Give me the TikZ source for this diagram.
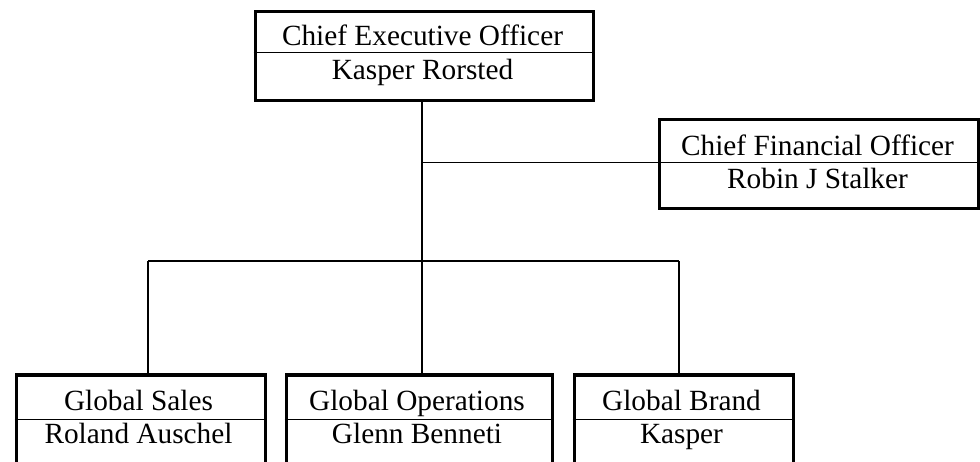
\documentclass[tikz,border=0pt]{standalone}
\usepackage{fontspec}
\setmainfont{Liberation Serif}
\begin{document}
\begin{tikzpicture}[x=1pt,y=-1pt,
  box/.style={draw=black, line width=3.5pt, rectangle, inner sep=0pt, anchor=north west, fill=white},
  conn/.style={draw=black, line width=1.7pt},
  div/.style={draw=black, line width=1pt},
  txt/.style={anchor=base, inner sep=0pt, font=\fontsize{29.3}{35}\selectfont}]
\useasboundingbox (0,0) rectangle (980,461);
\clip (0,0) rectangle (980,461);
% junction coordinates
\coordinate (jcfo) at (422,162.5);
\coordinate (bar) at (422,261);
\coordinate (barL) at (148,261);
\coordinate (barR) at (679,261);
% boxes
\node[box, minimum width=338pt, minimum height=89pt] (ceo) at (253.5,9.5) {};
\node[box, minimum width=319.5pt, minimum height=89pt] (cfo) at (657.5,117.5) {};
\node[box, minimum width=249pt, minimum height=100pt] (sales) at (14.5,373) {};
\node[box, minimum width=266pt, minimum height=100pt] (ops) at (284.5,373) {};
\node[box, minimum width=219pt, minimum height=100pt] (brand) at (572.5,373) {};
% dividers
\coordinate (d1) at (0,52.5);
\coordinate (d2) at (0,162.5);
\coordinate (d3) at (0,419.5);
\draw[div] (ceo.west |- d1) -- (ceo.east |- d1);
\draw[div] (cfo.west |- d2) -- (cfo.east |- d2);
\draw[div] (sales.west |- d3) -- (sales.east |- d3);
\draw[div] (ops.west |- d3) -- (ops.east |- d3);
\draw[div] (brand.west |- d3) -- (brand.east |- d3);
% connectors
\draw[conn] (ceo.south -| bar) -- (ops.north -| bar);
\draw[conn] (jcfo) -- (cfo.west |- jcfo);
\draw[conn] (barL) -- (barR);
\draw[conn] (barL) -- (sales.north -| barL);
\draw[conn] (barR) -- (brand.north -| barR);
% texts
\node[txt] (ceot) at (422.5,45.7) {Chief Executive Officer};
\node[txt] (ceon) at (422.5,79) {Kasper Rorsted};
\node[txt] (cfot) at (817.5,155) {Chief Financial Officer};
\node[txt] (cfon) at (817.5,188) {Robin J Stalker};
\node[txt] (salest) at (138.5,410) {Global Sales};
\node[txt] (salesn) at (138.5,443) {Roland Auschel};
\node[txt] (opst) at (417,410) {Global Operations};
\node[txt] (opsn) at (417,443) {Glenn Benneti};
\node[txt] (brandt) at (681.5,410) {Global Brand};
\node[txt] (brandn) at (681.5,443) {Kasper};
\end{tikzpicture}
\end{document}
